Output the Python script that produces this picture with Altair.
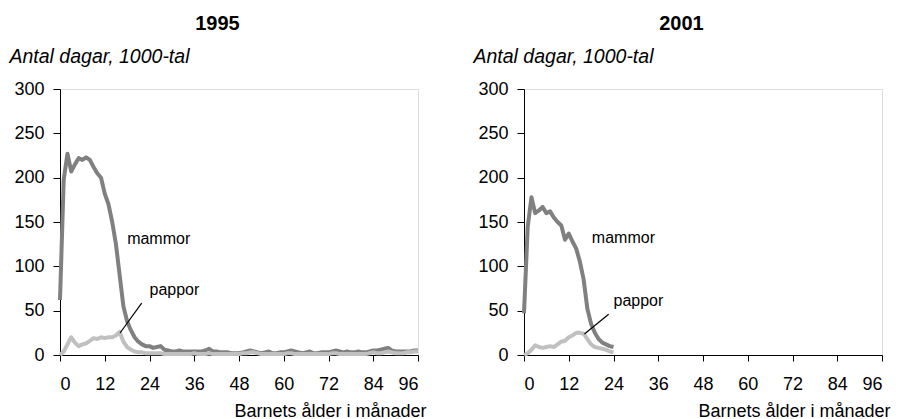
import altair as alt
import pandas as pd

FONT = "Liberation Sans"

# ---- data -----------------------------------------------------------
months_1995 = list(range(0, 97))
mammor_1995 = [62, 198, 227, 207, 215, 222, 220, 223, 220, 212,
               205, 200, 182, 170, 150, 125, 90, 55, 38, 28,
               20, 15, 12, 10, 10, 8, 9, 10, 6, 5,
               4, 4, 5, 4, 4, 4, 4, 4, 4, 5,
               7, 4, 4, 3, 3, 3, 2, 2, 2, 3,
               4, 5, 4, 3, 2, 3, 4, 2, 2, 3,
               3, 4, 5, 4, 3, 2, 3, 4, 2, 2,
               3, 3, 3, 4, 5, 4, 3, 4, 3, 3,
               4, 3, 3, 4, 5, 5, 6, 7, 8, 5,
               4, 4, 4, 4, 4, 5, 5]
pappor_1995 = [0, 4, 12, 20, 14, 10, 12, 13, 16, 19,
               18, 20, 19, 20, 20, 22, 26, 15, 9, 6,
               4, 3, 3, 2, 2, 2, 2, 2, 1, 1,
               1, 1, 1, 1, 1, 1, 2, 1, 1, 1,
               2, 1, 1, 1, 1, 1, 1, 1, 1, 2,
               2, 3, 3, 2, 1, 1, 1, 1, 1, 1,
               1, 2, 2, 1, 1, 1, 1, 1, 1, 1,
               1, 1, 1, 2, 2, 1, 1, 1, 1, 1,
               1, 1, 1, 2, 3, 2, 2, 3, 4, 3,
               2, 2, 2, 3, 3, 4, 4]

months_2001 = list(range(0, 25))
mammor_2001 = [47, 145, 178, 160, 163, 167, 160, 162, 155, 150,
               146, 130, 137, 128, 120, 105, 85, 52, 35, 25,
               18, 14, 12, 10, 9]
pappor_2001 = [0, 2, 6, 11, 9, 8, 9, 10, 9, 12,
               15, 16, 20, 22, 25, 25, 24, 18, 12, 9,
               8, 7, 6, 4, 3]

# in-plot labels: text, x (months), y (value)
label_text = ["mammor", "pappor"]
label_x_1995 = [18.0, 24.0]
label_y_1995 = [131, 73]
label_x_2001 = [18.2, 24.0]
label_y_2001 = [132, 61]

# leader line from "pappor" label to the curve: x, y, x2, y2
leader_1995 = [21.9, 58.6, 16.1, 24.8]
leader_2001 = [22.7, 46.0, 16.2, 23.7]

x_ticks = [0, 12, 24, 36, 48, 60, 72, 84, 96]
y_ticks = [0, 50, 100, 150, 200, 250, 300]

series_names = ["mammor", "pappor"]
series_colors = ["#808080", "#c0c0c0"]

W, H = 358, 266


def panel(year, months, mammor, pappor, lx, ly, leader):
    df = pd.DataFrame({
        "month": months * 2,
        "value": mammor + pappor,
        "serie": ["mammor"] * len(months) + ["pappor"] * len(months),
    })
    x = alt.X("month:Q",
              scale=alt.Scale(domain=[0, 96], nice=False, zero=True),
              axis=alt.Axis(values=x_ticks, title="Barnets ålder i månader",
                            grid=False, tickSize=6, tickColor="black",
                            domainColor="black", labelFontSize=18,
                            labelFont=FONT, labelColor="black",
                            labelPadding=14, titleFont=FONT,
                            titleFontSize=18, titleFontWeight="normal",
                            titleColor="black", titleAnchor="end",
                            titleAlign="right", titleBaseline="alphabetic",
                            titleX=W + 8, titleY=61))
    y = alt.Y("value:Q",
              scale=alt.Scale(domain=[0, 300], nice=False),
              axis=alt.Axis(values=y_ticks, title="Antal dagar, 1000-tal",
                            grid=False, tickSize=7, tickColor="black",
                            domainColor="black", labelFontSize=18,
                            labelFont=FONT, labelColor="black",
                            labelPadding=9, titleFont=FONT,
                            titleFontSize=19.5, titleFontStyle="italic",
                            titleFontWeight="normal", titleColor="black",
                            titleAngle=0, titleAlign="left",
                            titleBaseline="alphabetic", titleX=-51,
                            titleY=-27))
    lines = alt.Chart(df).mark_line(strokeWidth=4, strokeJoin="round").encode(
        x=x, y=y,
        color=alt.Color("serie:N",
                        scale=alt.Scale(domain=series_names,
                                        range=series_colors),
                        legend=None),
        order=alt.Order("serie:N", sort="descending"),
    )
    ldf = pd.DataFrame({"t": label_text, "x": lx, "y": ly})
    labels = alt.Chart(ldf).mark_text(
        align="left", baseline="middle", font=FONT, fontSize=16,
        color="black").encode(x="x:Q", y="y:Q", text="t:N")
    rdf = pd.DataFrame({"x": [leader[0]], "y": [leader[1]],
                        "x2": [leader[2]], "y2": [leader[3]]})
    rule = alt.Chart(rdf).mark_rule(color="black", strokeWidth=1.2).encode(
        x="x:Q", y="y:Q", x2="x2:Q", y2="y2:Q")
    return alt.layer(lines, rule, labels).properties(
        width=W, height=H,
        title=alt.TitleParams(str(year), font=FONT, fontSize=20,
                              fontWeight="bold", color="black",
                              anchor="middle", frame="bounds",
                              baseline="alphabetic", offset=-4))


left = panel(1995, months_1995, mammor_1995, pappor_1995,
             label_x_1995, label_y_1995, leader_1995)
right = panel(2001, months_2001, mammor_2001, pappor_2001,
              label_x_2001, label_y_2001, leader_2001)

chart = alt.hconcat(left, right, spacing=45).configure_view(
    stroke="#8a8a8a", strokeWidth=1.5
).configure(background="white",
            padding={"left": 0, "top": 5, "right": 0, "bottom": 0})

chart.save("out.html", embed_options={"renderer": "svg", "actions": False})
